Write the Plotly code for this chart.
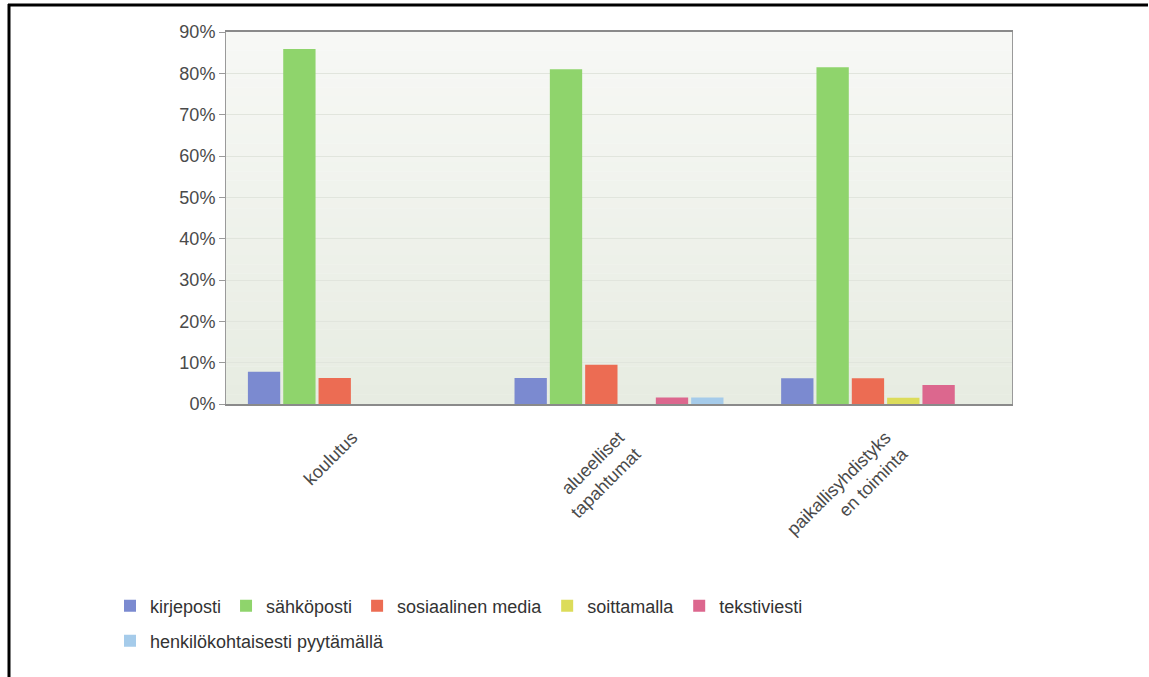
import plotly.graph_objects as go

# Categories (x axis), multi-line labels as shown under the axis
categories = ["koulutus", "alueelliset<br>tapahtumat", "paikallisyhdistyks<br>en toiminta"]

# Share of answers (%) per channel
kirjeposti = [7.8, 6.3, 6.2]
sahkoposti = [85.9, 81.0, 81.5]
sosiaalinen_media = [6.3, 9.5, 6.2]
soittamalla = [0.0, 0.0, 1.5]
tekstiviesti = [0.0, 1.6, 4.6]
henkilokohtaisesti = [0.0, 1.6, 0.0]

series = [
    ("kirjeposti", kirjeposti, "#7b8ad0", "legend"),
    ("sähköposti", sahkoposti, "#8fd46c", "legend"),
    ("sosiaalinen media", sosiaalinen_media, "#ec6c53", "legend"),
    ("soittamalla", soittamalla, "#dcdc5a", "legend"),
    ("tekstiviesti", tekstiviesti, "#dc678e", "legend"),
    ("henkilökohtaisesti pyytämällä", henkilokohtaisesti, "#a5cbea", "legend2"),
]

W, H = 1149, 677
ML, MR, MT, MB = 226, 137, 32, 273
PW, PH = W - ML - MR, H - MT - MB


def px_x(p):
    return (p - ML) / PW


def px_y(p):
    return (H - MB - p) / PH


FONT = "Liberation Sans, Arial, sans-serif"

fig = go.Figure()
for name, vals, color, leg in series:
    fig.add_trace(go.Bar(
        x=categories, y=vals, name=name, legend=leg,
        marker=dict(color=color, line=dict(width=0)),
    ))

# soft vertical gradient behind the plot area
shapes = []
n_bands = 40
top_rgb = (247, 248, 245)
bot_rgb = (231, 236, 226)
for i in range(n_bands):
    t = i / (n_bands - 1)
    r = round(top_rgb[0] + (bot_rgb[0] - top_rgb[0]) * t)
    g = round(top_rgb[1] + (bot_rgb[1] - top_rgb[1]) * t)
    b = round(top_rgb[2] + (bot_rgb[2] - top_rgb[2]) * t)
    shapes.append(dict(
        type="rect", xref="paper", yref="paper", layer="below",
        x0=0, x1=1, y0=1 - (i + 1) / n_bands, y1=1 - i / n_bands + 0.001,
        fillcolor=f"rgb({r},{g},{b})", line=dict(width=0),
    ))

# black frame lines along the top and left edge of the page
shapes.append(dict(type="line", xref="paper", yref="paper",
                   x0=px_x(8), x1=px_x(1148), y0=px_y(5), y1=px_y(5),
                   line=dict(color="black", width=3)))
shapes.append(dict(type="line", xref="paper", yref="paper",
                   x0=px_x(9), x1=px_x(9), y0=px_y(4), y1=px_y(677),
                   line=dict(color="black", width=3)))

fig.update_layout(
    width=W, height=H,
    margin=dict(l=ML, r=MR, t=MT, b=MB, pad=0),
    paper_bgcolor="white",
    plot_bgcolor="rgba(0,0,0,0)",
    barmode="group",
    bargap=0.205,
    bargroupgap=0.085,
    font=dict(family=FONT, size=18, color="#444444"),
    shapes=shapes,
    legend=dict(
        orientation="h", x=px_x(110), xanchor="left",
        y=px_y(606), yanchor="middle",
        font=dict(family=FONT, size=18, color="#333333"),
        bgcolor="rgba(0,0,0,0)", traceorder="normal",
    ),
    legend2=dict(
        orientation="h", x=px_x(110), xanchor="left",
        y=px_y(641), yanchor="middle",
        font=dict(family=FONT, size=18, color="#333333"),
        bgcolor="rgba(0,0,0,0)",
    ),
)

fig.update_yaxes(
    range=[0, 90], dtick=10, ticksuffix="%",
    showgrid=True, gridcolor="#e1e5dd", gridwidth=1,
    showline=True, linecolor="#9a9a9a", linewidth=1, mirror=True,
    ticks="outside", ticklen=6, tickcolor="#9a9a9a",
    tickfont=dict(family=FONT, size=18, color="#4a4a4a"),
    zeroline=False,
)
fig.update_xaxes(
    type="category", range=[-0.474, 2.474],
    tickangle=-45, showgrid=False,
    showline=True, linecolor="#8a8a8a", linewidth=2, mirror=True,
    ticks="", ticklabelstandoff=14,
    tickfont=dict(family=FONT, size=18, color="#4a4a4a"),
)

fig.write_html("out.html", config={"displayModeBar": False})
